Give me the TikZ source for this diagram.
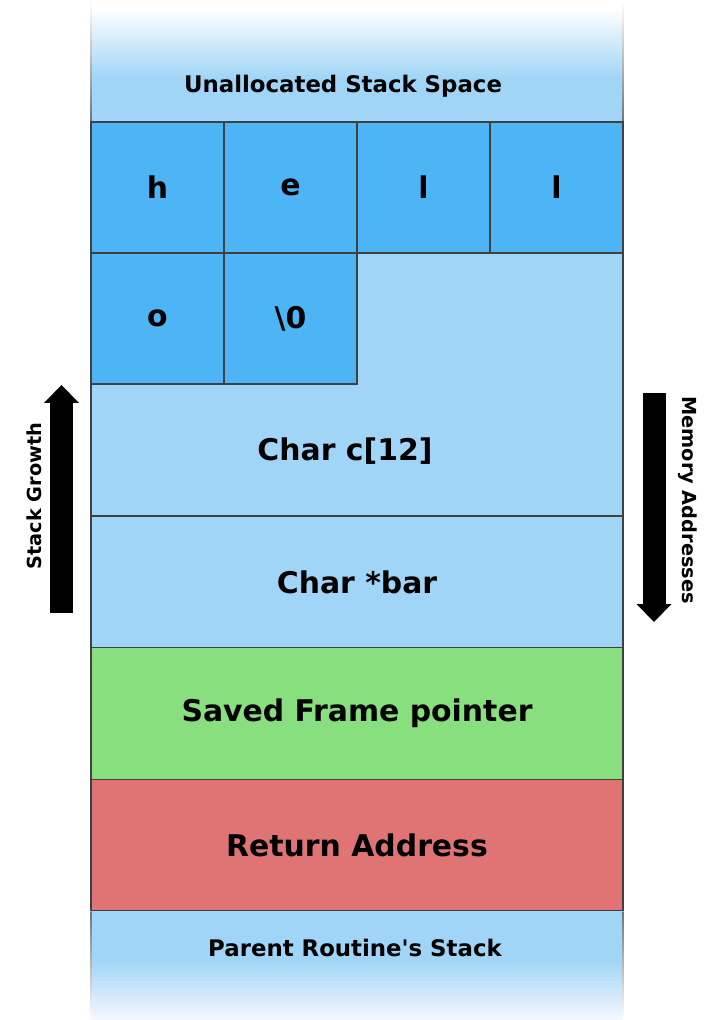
\documentclass[tikz,border=0pt]{standalone}
\usepackage{fontspec}
\setmainfont{DejaVu Sans}[Ligatures=TeXOff]
\usetikzlibrary{arrows.meta}

\definecolor{stackblue}{RGB}{160,213,247}
\definecolor{charblue}{RGB}{77,180,246}
\definecolor{framegreen}{RGB}{135,223,125}
\definecolor{retred}{RGB}{224,116,116}

\tikzset{
	frameline/.style={draw=black!75, line width=0.75pt},
	cell/.style={frameline, fill=charblue, minimum width=2.66cm, minimum height=2.62cm, inner sep=0pt, font=\bfseries\fontsize{17}{20}\selectfont},
	slot/.style={frameline, minimum width=10.64cm, minimum height=2.63cm, inner sep=0pt, font=\bfseries\fontsize{17}{20}\selectfont},
	smalllabel/.style={font=\bfseries\fontsize{13}{16}\selectfont},
	sidelabel/.style={font=\bfseries\fontsize{11}{13}\selectfont},
	bigarrow/.style={line width=0.46cm, -{Triangle[width=0.68cm, length=0.36cm]}},
}

\begin{document}
\begin{tikzpicture}[x=0.02cm, y=-0.02cm]
		\useasboundingbox (0,0) rectangle (708,1020);

		\shade[top color=white, bottom color=stackblue] (91,8) rectangle (623,78);
		\fill[stackblue] (91,78) rectangle (623,122);
		\fill[stackblue] (91,911) rectangle (623,960);
		\shade[top color=stackblue, bottom color=blue!3] (91,960) rectangle (623,1020);
		\shade[top color=white, bottom color=black!55] (90.5,0) rectangle (91.5,122);
		\shade[top color=white, bottom color=black!55] (622.5,0) rectangle (623.5,122);
		\shade[top color=black!55, bottom color=white] (90.5,911) rectangle (91.5,1020);
		\shade[top color=black!55, bottom color=white] (622.5,911) rectangle (623.5,1020);

		\node (free)[smalllabel] at (343,86) {Unallocated Stack Space};

		\node (buf)[slot, fill=stackblue, minimum height=5.26cm] at (357,384.5) {};
		\node (buflabel)[font=\bfseries\fontsize{17}{20}\selectfont] at (345,451) {Char c[12]};

		\node (h)[cell] at (157.5,187.5) {h};
		\node (e)[cell] at (290.5,187.5) {e};
		\node (l1)[cell] at (423.5,187.5) {l};
		\node (l2)[cell] at (556.5,187.5) {l};
		\node (o)[cell] at (157.5,318.5) {o};
		\node (nul)[cell] at (290.5,318.5) {\textbackslash 0};

		\node (bar)[slot, fill=stackblue] at (357,582) {Char *bar};
		\node (fp)[slot, fill=framegreen] at (357,713.5) {Saved Frame pointer};
		\node (ret)[slot, fill=retred] at (357,845) {Return Address};

		\node (parent)[smalllabel] at (355,948) {Parent Routine's Stack};

		\coordinate (growtail) at (61.5,613);
		\coordinate (growhead) at (61.5,385);
		\coordinate (memtail) at (654,393);
		\coordinate (memhead) at (654,622);
		\draw [bigarrow](growtail) -- (growhead);
		\draw [bigarrow](memtail) -- (memhead);

		\node (growth)[sidelabel, rotate=90] at (34,496) {Stack Growth};
		\node (memory)[sidelabel, rotate=-90] at (688,500) {Memory Addresses};
	\end{tikzpicture}
\end{document}
